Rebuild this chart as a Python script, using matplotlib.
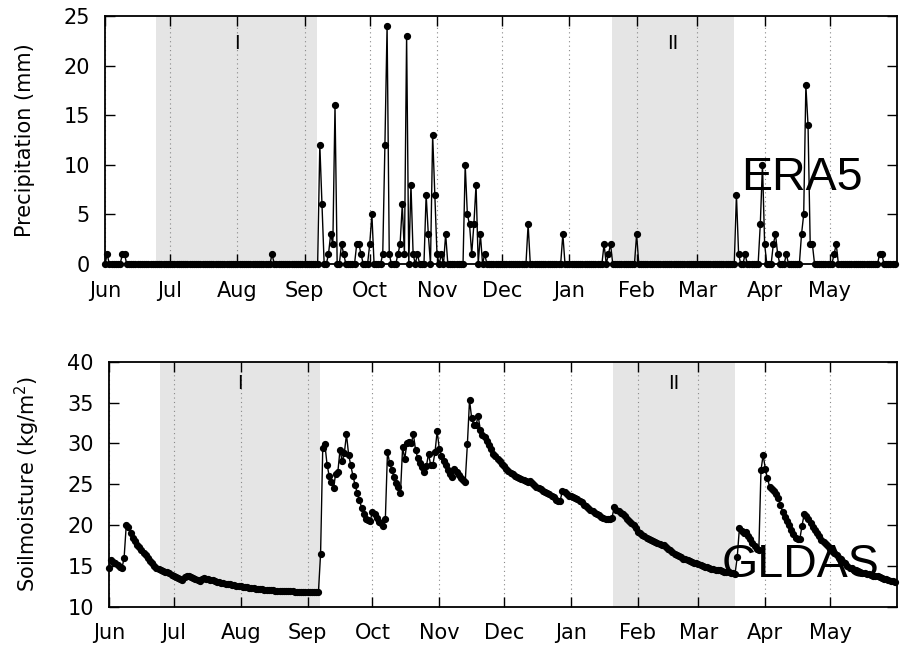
import matplotlib
matplotlib.use('Agg')
import matplotlib.pyplot as plt
import matplotlib.dates as mdates
import numpy as np
import pandas as pd

# 日期范围：2018-06-01 ~ 2019-05-31，逐日
start = '2018-06-01'
end = '2019-05-31'

# ERA5 日降水（mm），只列非零日期
rain_dates = ['2018-06-02', '2018-06-09', '2018-06-10', '2018-08-17',
              '2018-09-08', '2018-09-09', '2018-09-12', '2018-09-13', '2018-09-14', '2018-09-15',
              '2018-09-18', '2018-09-19', '2018-09-25', '2018-09-26', '2018-09-27',
              '2018-10-01', '2018-10-02', '2018-10-07', '2018-10-08', '2018-10-09', '2018-10-10',
              '2018-10-14', '2018-10-15', '2018-10-16', '2018-10-17', '2018-10-18', '2018-10-20',
              '2018-10-21', '2018-10-23', '2018-10-27', '2018-10-28', '2018-10-30', '2018-10-31',
              '2018-11-01', '2018-11-03', '2018-11-05', '2018-11-14', '2018-11-15', '2018-11-16',
              '2018-11-17', '2018-11-18', '2018-11-19', '2018-11-21', '2018-11-23',
              '2018-12-13', '2018-12-29', '2019-01-17', '2019-01-19', '2019-01-20', '2019-02-01',
              '2019-03-19', '2019-03-20', '2019-03-23', '2019-03-30', '2019-03-31', '2019-04-01',
              '2019-04-05', '2019-04-06', '2019-04-07', '2019-04-11', '2019-04-18', '2019-04-19',
              '2019-04-20', '2019-04-21', '2019-04-22', '2019-04-23', '2019-05-03', '2019-05-04',
              '2019-05-24', '2019-05-25']
rain_mm = [1, 1, 1, 1,
           12, 6, 1, 3, 2, 16,
           2, 1, 2, 2, 1,
           2, 5, 1, 12, 24, 1,
           1, 2, 6, 1, 23, 8,
           1, 1, 7, 3, 13, 7,
           1, 1, 3, 10, 5, 4,
           1, 4, 8, 3, 1,
           4, 3, 2, 1, 2, 3,
           7, 1, 1, 4, 10, 2,
           2, 3, 1, 1, 3, 5,
           18, 14, 2, 2, 1, 2,
           1, 1]

# GLDAS 土壤湿度（kg/m2），逐日
soil_moisture = [
    14.8, 15.7, 15.5, 15.3, 15.1, 14.9, 14.7, 16.0, 20.0, 19.8,
    19.0, 18.4, 18.0, 17.6, 17.3, 17.0, 16.6, 16.3, 16.0, 15.6,
    15.3, 15.0, 14.8, 14.6, 14.5,
    14.4, 14.3, 14.2, 14.1, 13.9, 13.8, 13.6, 13.5, 13.4, 13.3,
    13.6, 13.8, 13.7, 13.6, 13.5, 13.4, 13.3, 13.2, 13.4, 13.55,
    13.45, 13.38, 13.3, 13.22, 13.15, 13.08, 13.01, 12.95, 12.89, 12.83,
    12.78, 12.73, 12.68, 12.63, 12.58, 12.54, 12.5,
    12.46, 12.42, 12.38, 12.34, 12.3, 12.26, 12.22, 12.18, 12.14,
    12.11, 12.08, 12.06, 12.04, 12.02, 12.0, 11.98, 11.96, 11.94, 11.93,
    11.92, 11.9, 11.89, 11.88, 11.87, 11.85,
    11.84, 11.83, 11.82, 11.81, 11.8, 11.79, 11.78, 11.77, 11.76, 11.75, 11.74,
    16.45, 29.4, 29.9, 27.4, 26.0, 25.3, 24.5, 26.3, 26.5, 29.2,
    27.8, 28.8, 31.1, 28.6, 27.3, 26.0, 24.9, 23.9, 23.1, 22.1,
    21.3, 20.8, 20.6, 20.5, 21.6, 21.3, 20.9, 20.4, 20.2, 19.9,
    20.7, 29.0, 27.55, 26.7, 25.9, 25.2, 24.6, 23.9, 29.5, 28.1,
    30.1, 30.2, 30.0, 31.1, 29.2, 28.2, 27.6, 27.1, 26.45, 27.2,
    28.7, 27.35, 27.35, 28.9, 31.5, 29.3, 28.4, 27.8, 27.35, 26.8,
    26.3, 25.9, 26.9, 26.5, 26.1, 25.8, 25.5, 25.3, 29.9, 35.3,
    33.05, 32.2, 32.2, 33.4, 31.6, 31.0, 30.8, 30.3, 29.8, 29.3,
    28.7,
    28.4, 28.1, 27.8, 27.5, 27.2, 26.9, 26.6, 26.4, 26.2, 26.0,
    25.9, 25.7, 25.6, 25.5, 25.4, 25.3, 25.4, 25.1, 24.9, 24.7,
    24.5, 24.4, 24.2, 24.0, 23.9, 23.75, 23.6, 23.4, 23.1, 23.0,
    23.0, 24.2, 24.0, 23.8, 23.6, 23.5, 23.4, 23.3, 23.2, 23.0,
    22.8, 22.5, 22.3, 22.1, 21.9, 21.7, 21.5, 21.4, 21.2, 21.0,
    20.9, 20.8, 20.7, 20.8, 20.9, 22.2, 21.9, 21.7, 21.5, 21.3,
    21.1, 20.8, 20.5, 20.2, 20.0, 19.6, 19.2, 19.0, 18.8, 18.6,
    18.4, 18.25, 18.15, 18.0, 17.9, 17.8, 17.7, 17.6, 17.5, 17.3,
    17.1, 16.9, 16.7, 16.5, 16.35, 16.2, 16.05, 15.9, 15.8, 15.7,
    15.6, 15.5, 15.4, 15.3, 15.2, 15.1, 15.0, 14.9, 14.85, 14.75,
    14.65, 14.6, 14.55, 14.5, 14.45, 14.4, 14.3, 14.25, 14.2, 14.15,
    14.1, 14.05,
    16.1, 19.6, 19.3, 19.0, 19.2, 18.7, 18.3, 17.8, 17.4, 17.1,
    16.9, 26.7, 28.6, 26.9, 25.7, 24.7, 24.4, 24.2, 23.8, 23.3,
    22.5, 21.6, 21.0, 20.5, 20.0, 19.4, 18.9, 18.4, 18.3, 18.3,
    19.9, 21.35, 21.1, 20.8, 20.3, 19.8, 19.4, 19.0, 18.6, 18.2,
    17.9, 17.7, 17.4, 17.1, 16.8, 16.6, 16.3, 16.0, 15.8, 15.5,
    15.3, 15.0, 14.8, 14.7, 14.55, 14.45, 14.35, 14.25, 14.15, 14.1,
    14.0, 13.95, 13.9, 13.8, 13.75, 13.7, 13.6, 13.55, 13.45, 13.4,
    13.3, 13.2, 13.1, 13.05]

# 两个阴影时段
periods = [('2018-06-24 14:00', '2018-09-06 17:00', 'I'),
           ('2019-01-20 14:00', '2019-03-17 20:00', 'II')]

days = pd.date_range(start, end, freq='D')
precip = pd.Series(0.0, index=days)
precip[pd.to_datetime(rain_dates)] = rain_mm
soil = pd.Series(soil_moisture, index=days)
month_ticks = pd.date_range(start, end, freq='MS')

plt.rcParams['font.family'] = 'DejaVu Sans'
fs = 15

fig = plt.figure(figsize=(9.04, 6.45), dpi=100)
ax1 = fig.add_axes([105 / 904, 1 - 264 / 645, 792 / 904, 248 / 645])
ax2 = fig.add_axes([109 / 904, 1 - 606.7 / 645, 788 / 904, 245 / 645])


def style_axis(ax, ylim, yticks, ylabel, label_y):
    ax.set_xlim(pd.Timestamp('2018-06-01'), pd.Timestamp('2019-06-01'))
    ax.set_ylim(*ylim)
    ax.set_yticks(yticks)
    for s, e, name in periods:
        ax.axvspan(pd.Timestamp(s), pd.Timestamp(e), color='#e5e5e5', lw=0, zorder=0)
        mid = pd.Timestamp(s) + (pd.Timestamp(e) - pd.Timestamp(s)) / 2
        ax.text(mid, label_y, name, ha='center', va='center', fontsize=fs - 1)
    ax.set_xticks(month_ticks)
    ax.xaxis.set_major_formatter(mdates.DateFormatter('%b'))
    ax.grid(axis='x', linestyle=(0, (1, 3)), color='#888888', lw=0.8, zorder=1)
    ax.tick_params(direction='in', length=7, width=1, top=True, right=True,
                   labelsize=fs, pad=11)
    ax.tick_params(axis='x', pad=12)
    for sp in ax.spines.values():
        sp.set_linewidth(1.3)
    ax.set_ylabel(ylabel, fontsize=fs)


style_axis(ax1, (0, 25), [0, 5, 10, 15, 20, 25], 'Precipitation (mm)', 22.2)
ax1.yaxis.set_label_coords(-0.088, 0.5)
ax1.plot(precip.index, precip.values, '-o', color='k', lw=1, ms=4.2, zorder=3, clip_on=False)

style_axis(ax2, (10, 40), [10, 15, 20, 25, 30, 35, 40], r'Soilmoisture (kg/m$^2$)', 37.3)
ax2.yaxis.set_label_coords(-0.085, 0.5)
ax2.plot(soil.index, soil.values, '-o', color='k', lw=1, ms=4.2, zorder=3, clip_on=False)

fig.text(741 / 904, 1 - 190 / 645, 'ERA5', fontsize=33.5, family='Liberation Sans',
         va='baseline', ha='left')
fig.text(721.5 / 904, 1 - 576.7 / 645, 'GLDAS', fontsize=33.5, family='Liberation Sans',
         va='baseline', ha='left')

plt.savefig('out.png', dpi=100)
